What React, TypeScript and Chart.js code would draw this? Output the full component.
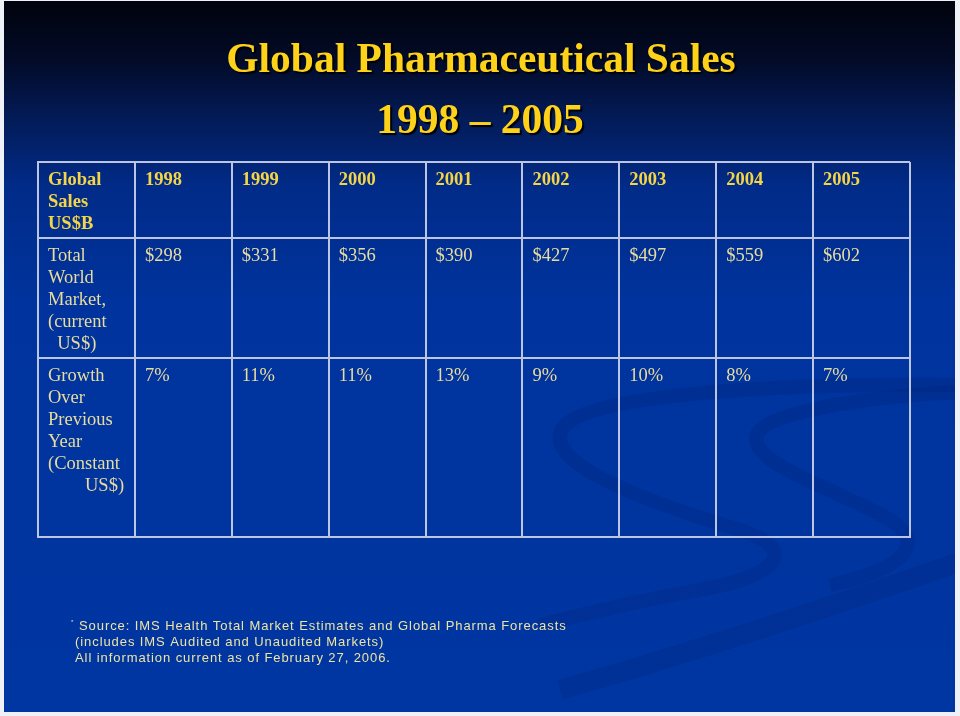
import React, { useEffect, useRef } from "react";
import { Chart, registerables } from "chart.js";

Chart.register(...registerables);

// ---------- data ----------
const titleLines = ["Global Pharmaceutical Sales", "1998 – 2005"];
const years = ["1998", "1999", "2000", "2001", "2002", "2003", "2004", "2005"];
const salesUSB = [298, 331, 356, 390, 427, 497, 559, 602];
const growthPct = [7, 11, 11, 13, 9, 10, 8, 7];
const rowHeaders = [
  ["Global", "Sales", "US$B"],
  ["Total", "World", "Market,", "(current", "  US$)"],
  ["Growth", "Over", "Previous", "Year", "(Constant", "        US$)"],
];
// table column boundaries (column index units) and row boundaries (row-height units)
const colBounds = [0, 1, 2, 3, 4, 5, 6, 7, 8, 9];
const rowBounds = [0, 76, 196, 375];
const footnoteLines = [
  "Source: IMS Health Total Market Estimates and Global Pharma Forecasts",
  "(includes IMS Audited and Unaudited Markets)",
  "All information current as of February 27, 2006.",
];

// ---------- styles ----------
const GRID = "#bcc6e2";
const HEADER_COLOR = "#F4D448";
const BODY_COLOR = "#E8DC9E";
const TITLE_COLOR = "#FFD21A";
const FOOT_COLOR = "#EDE3A2";
const SERIF = '"Liberation Serif", "Times New Roman", serif';
const SANS = '"Liberation Sans", Arial, sans-serif';

const rowTexts: string[][][] = [
  [rowHeaders[0], ...years.map((y) => [y])],
  [rowHeaders[1], ...salesUSB.map((v) => ["$" + v])],
  [rowHeaders[2], ...growthPct.map((v) => [v + "%"])],
];

const slidePlugin = {
  id: "slideBackground",
  beforeDraw(chart: any) {
    const { ctx, width, height } = chart;
    ctx.save();
    ctx.fillStyle = "#eef1f7";
    ctx.fillRect(0, 0, width, height);
    const g = ctx.createLinearGradient(0, 1, 0, 712);
    g.addColorStop(0, "#01030d");
    g.addColorStop(0.08, "#020a26");
    g.addColorStop(0.16, "#031a55");
    g.addColorStop(0.26, "#012b88");
    g.addColorStop(0.42, "#00339d");
    g.addColorStop(1, "#0036a2");
    ctx.fillStyle = g;
    ctx.fillRect(4, 1, 951, 711);
    ctx.beginPath();
    ctx.rect(4, 1, 951, 711);
    ctx.clip();
    ctx.lineCap = "butt";
    ctx.strokeStyle = "rgba(0, 22, 95, 0.16)";
    ctx.lineWidth = 14;
    ctx.beginPath();
    ctx.moveTo(960, 385);
    ctx.bezierCurveTo(800, 383, 600, 392, 565, 425);
    ctx.bezierCurveTo(535, 460, 640, 500, 740, 530);
    ctx.bezierCurveTo(800, 550, 780, 575, 700, 590);
    ctx.bezierCurveTo(640, 600, 580, 615, 540, 625);
    ctx.stroke();
    ctx.beginPath();
    ctx.moveTo(960, 392);
    ctx.bezierCurveTo(880, 395, 780, 410, 760, 430);
    ctx.bezierCurveTo(735, 460, 840, 490, 890, 520);
    ctx.bezierCurveTo(930, 545, 900, 570, 830, 585);
    ctx.stroke();
    ctx.lineWidth = 20;
    ctx.beginPath();
    ctx.moveTo(560, 690);
    ctx.bezierCurveTo(700, 650, 850, 600, 965, 560);
    ctx.stroke();
    ctx.restore();
  },
};

const textPlugin = {
  id: "tableText",
  afterDatasetsDraw(chart: any) {
    const ctx = chart.ctx;
    ctx.save();
    ctx.textBaseline = "middle";
    ctx.textAlign = "left";
    chart.data.datasets.forEach((ds: any, di: number) => {
      const meta = chart.getDatasetMeta(di);
      meta.data.forEach((pt: any, j: number) => {
        const lines: string[] = ds.cellText[j];
        const bold = di === 0;
        ctx.font = `${bold ? "bold " : ""}18.5px ${SERIF}`;
        ctx.fillStyle = bold ? HEADER_COLOR : BODY_COLOR;
        lines.forEach((ln, k) => ctx.fillText(ln, pt.x + 10, pt.y + 18 + k * 22));
      });
    });
    ctx.restore();
  },
  afterDraw(chart: any) {
    const ctx = chart.ctx;
    ctx.save();
    ctx.font = `bold 41.5px ${SERIF}`;
    ctx.textAlign = "center";
    ctx.textBaseline = "alphabetic";
    ctx.shadowColor = "rgba(0,0,0,0.95)";
    ctx.shadowOffsetX = 2;
    ctx.shadowOffsetY = 2;
    ctx.shadowBlur = 1;
    ctx.fillStyle = TITLE_COLOR;
    ctx.fillText(titleLines[0], 481, 72);
    ctx.fillText(titleLines[1], 480, 133);
    ctx.restore();

    ctx.save();
    ctx.textAlign = "left";
    ctx.textBaseline = "middle";
    ctx.fillStyle = FOOT_COLOR;
    ctx.font = `6px ${SANS}`;
    ctx.fillText("*", 71, 622);
    ctx.font = `13px ${SANS}`;
    (ctx as any).letterSpacing = "0.92px";
    ctx.fillText(footnoteLines[0], 79, 626);
    ctx.fillText(footnoteLines[1], 75, 642);
    ctx.fillText(footnoteLines[2], 75, 658);
    ctx.restore();
  },
};

export default function App() {
  const canvasRef = useRef<HTMLCanvasElement | null>(null);

  useEffect(() => {
    if (!canvasRef.current) return;
    const datasets = rowTexts.map((cells, r) => ({
      label: "row" + r,
      data: cells.map((_, c) => ({ x: colBounds[c], y: rowBounds[r] })),
      cellText: cells,
      pointRadius: 0,
      pointHoverRadius: 0,
      showLine: false,
    }));
    const chart = new Chart(canvasRef.current, {
      type: "scatter",
      data: { datasets: datasets as any },
      options: {
        animation: false,
        responsive: true,
        maintainAspectRatio: false,
        events: [],
        layout: { padding: { left: 38, top: 162, right: 50, bottom: 179 } },
        plugins: {
          legend: { display: false },
          tooltip: { enabled: false },
          title: { display: false },
        },
        scales: {
          x: {
            type: "linear",
            min: colBounds[0],
            max: colBounds[colBounds.length - 1],
            afterBuildTicks: (s: any) => {
              s.ticks = colBounds.map((v) => ({ value: v }));
            },
            ticks: { display: false },
            grid: { color: GRID, lineWidth: 2, drawTicks: false },
            border: { display: true, color: GRID, width: 2 },
          },
          y: {
            type: "linear",
            reverse: true,
            min: rowBounds[0],
            max: rowBounds[rowBounds.length - 1],
            afterBuildTicks: (s: any) => {
              s.ticks = rowBounds.map((v) => ({ value: v }));
            },
            ticks: { display: false },
            grid: { color: GRID, lineWidth: 2, drawTicks: false },
            border: { display: true, color: GRID, width: 2 },
          },
        },
      },
      plugins: [slidePlugin, textPlugin],
    });
    return () => chart.destroy();
  }, []);

  return (
    <div style={{ position: "fixed", left: 0, top: 0, width: 960, height: 716 }}>
      <canvas ref={canvasRef} />
    </div>
  );
}
